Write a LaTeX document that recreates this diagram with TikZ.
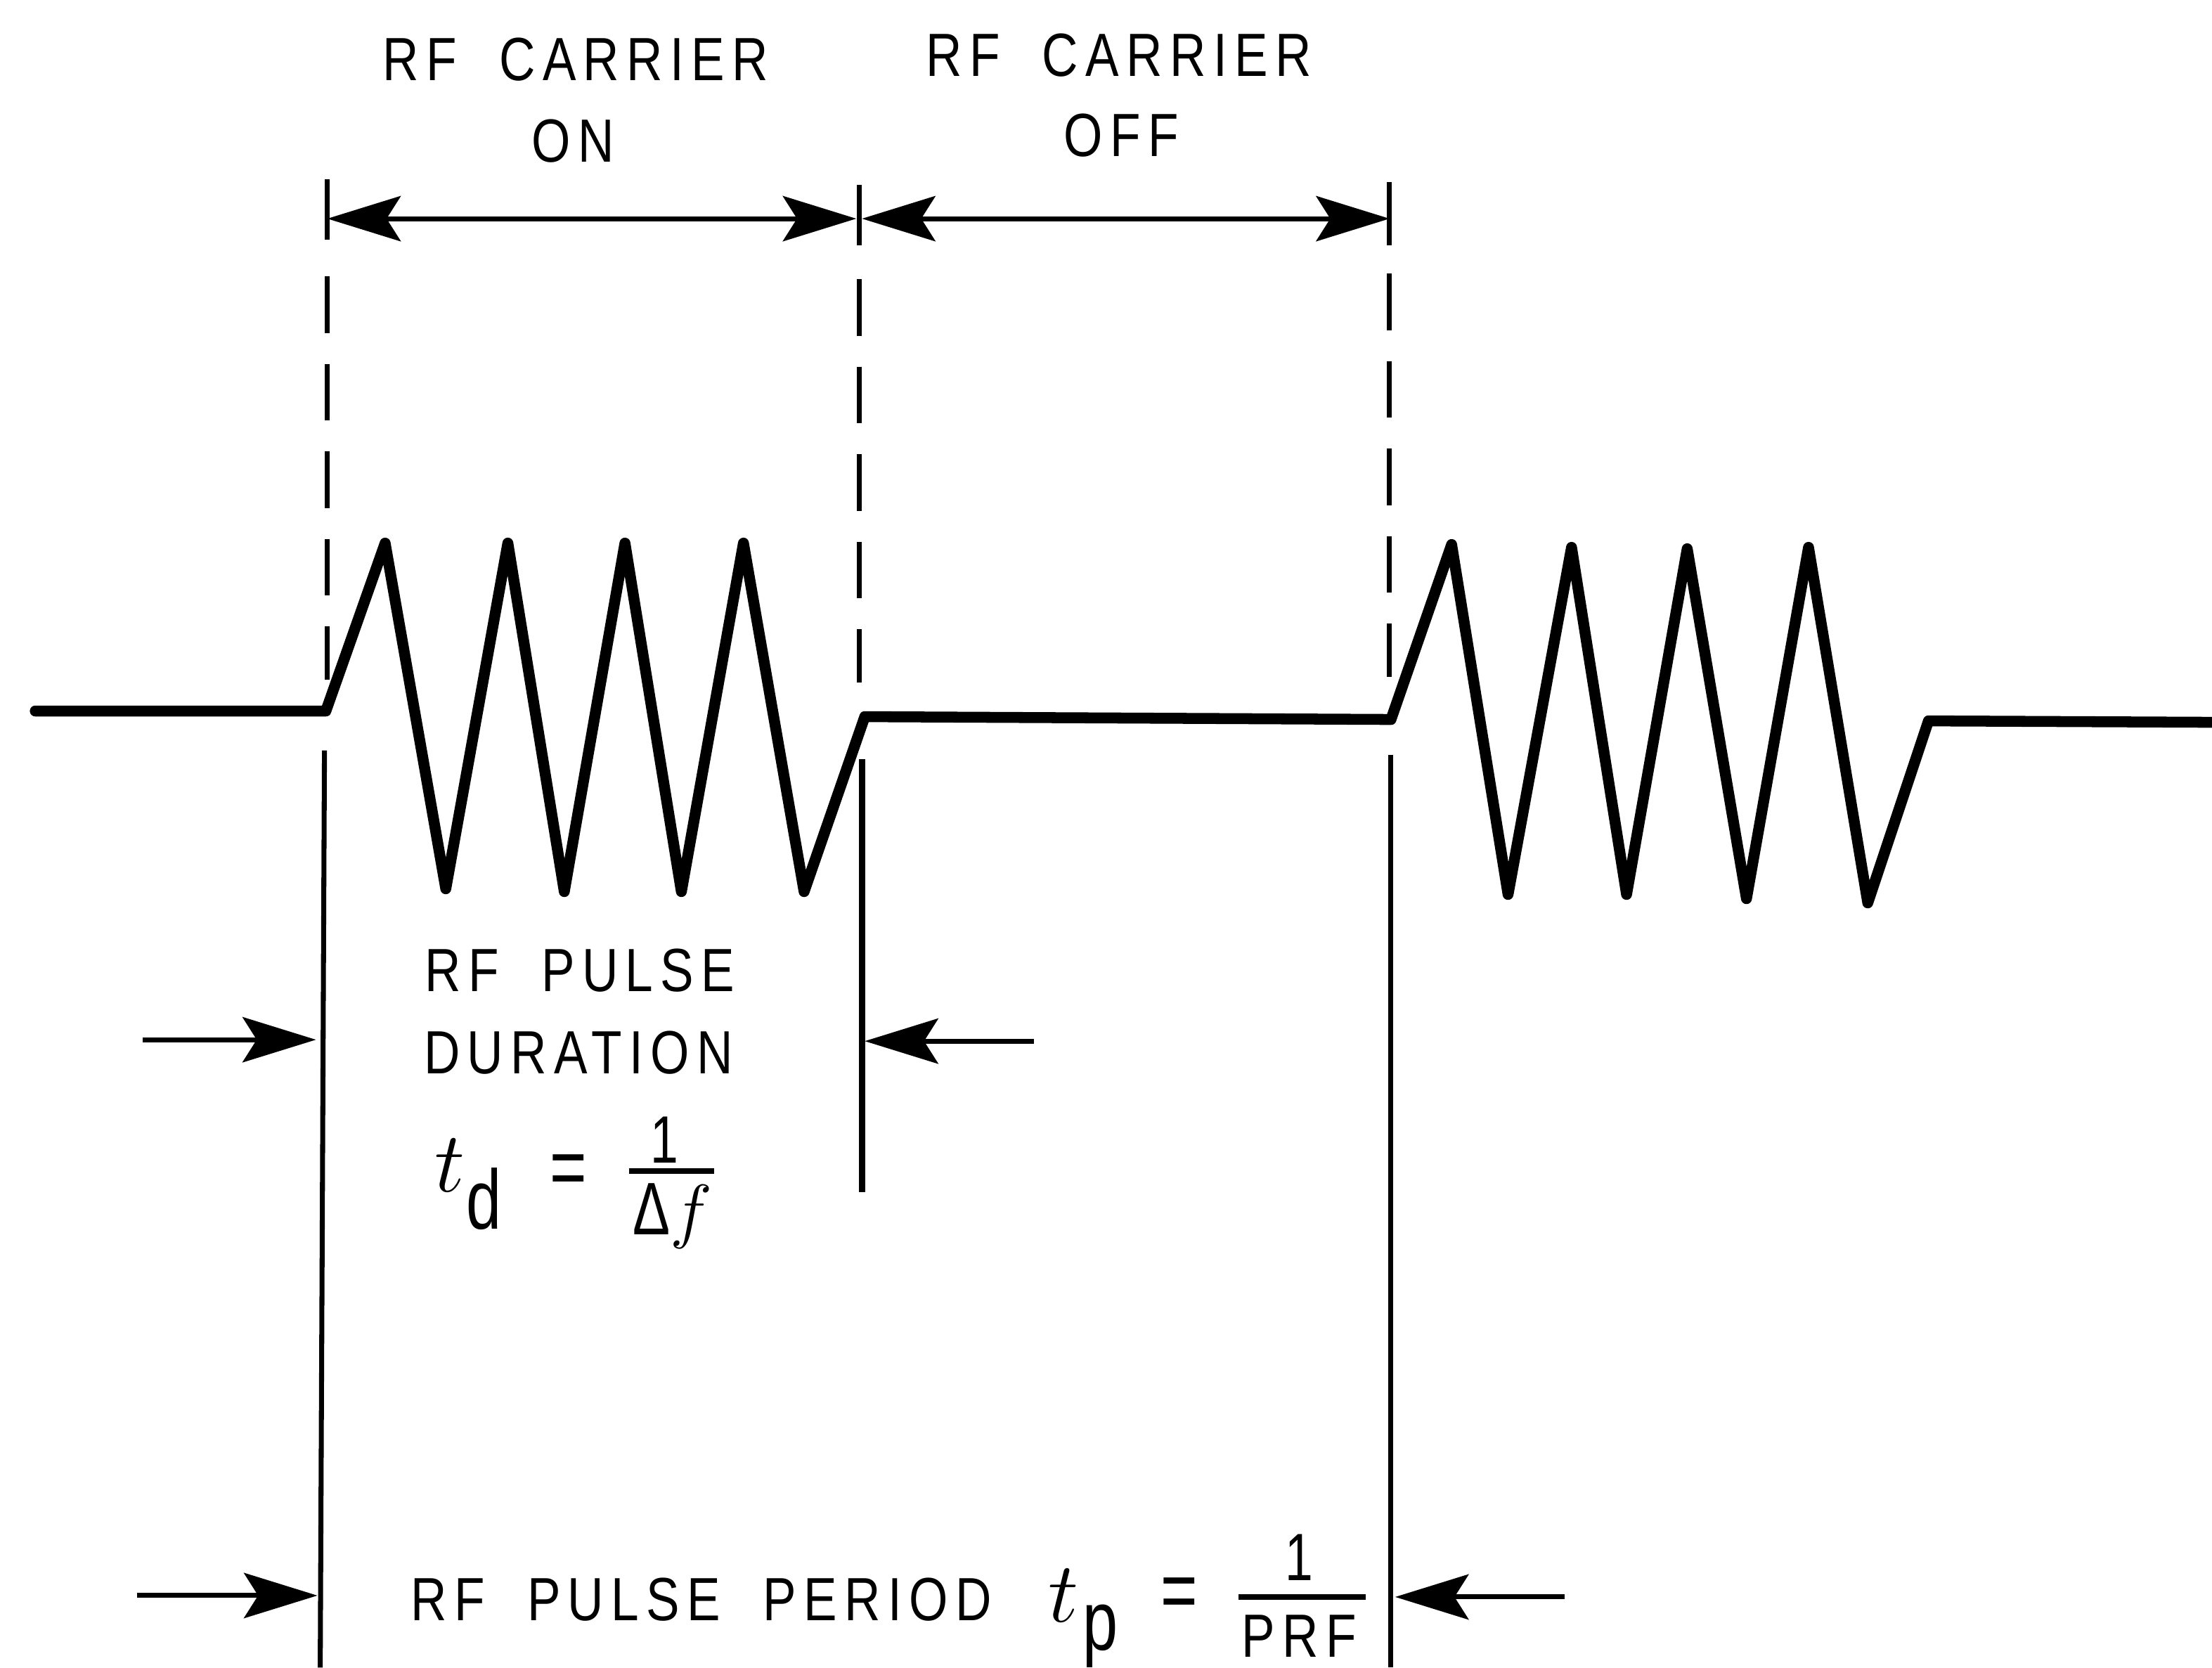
\documentclass[tikz,border=0pt]{standalone}
\usepackage{fontspec}
\setmainfont{Liberation Sans}
\newfontfamily\lbl[FakeStretch=0.82,LetterSpace=12,WordSpace=2]{Liberation Sans}
\newfontfamily\lblone[FakeStretch=0.75]{Liberation Sans}
\usetikzlibrary{arrows.meta}
\begin{document}
\begin{tikzpicture}[x=0.01cm,y=-0.01cm,
  wave/.style={line width=2.2pt,line join=round,line cap=round},
  thinline/.style={line width=1.0pt},
  heavyline/.style={line width=1.3pt},
  guide/.style={line width=1.0pt,dash pattern=on 0.40cm off 0.22cm},
  tip/.tip={Stealth[length=0.52cm,width=0.32cm,inset=0.1cm]},
  dimarrow/.style={line width=1.0pt,-tip},
  dimboth/.style={line width=1.0pt,tip-tip},
  lab/.style={inner sep=0pt,font={\lbl\fontsize{12.3}{14}\selectfont}},
  labone/.style={inner sep=0pt,font={\lblone\fontsize{13.5}{15}\selectfont}},
  eqsign/.style={inner sep=0pt,font={\lblone\fontsize{17}{19}\selectfont}},
  bigsub/.style={inner sep=0pt,font={\lblone\fontsize{17}{19}\selectfont}},
  mathbig/.style={inner sep=0pt,font={\fontsize{17}{19}\selectfont}},
  fracbar/.style={line width=1.1pt},
]
\useasboundingbox (0,0) rectangle (1568,1182);

% ---------- waveform ----------
\coordinate (w0) at (25,504);
\coordinate (w1) at (231,504);
\coordinate (wOff0) at (613,508);
\coordinate (wOff1) at (986,510);
\coordinate (w2) at (1367,511);
\coordinate (w3) at (1568,512);
\draw[wave] (w0) -- (w1) -- (273,385) -- (316,630) -- (360,385) -- (400,632)
  -- (443,385) -- (483,632) -- (527,385) -- (570,632) -- (wOff0) -- (wOff1)
  -- (1029,386) -- (1069,634) -- (1114,388) -- (1153,634) -- (1196,389)
  -- (1238,637) -- (1282,388) -- (1324,640) -- (w2) -- (w3);

% ---------- top ticks and dashed guides ----------
\coordinate (tA1) at (232,127); \coordinate (tA2) at (232,170);
\coordinate (tB1) at (609,131); \coordinate (tB2) at (609,174);
\coordinate (tC1) at (985,129); \coordinate (tC2) at (985,174);
\draw[thinline] (tA1) -- (tA2);
\draw[thinline] (tB1) -- (tB2);
\draw[thinline] (tC1) -- (tC2);
\coordinate (gA1) at (232,196); \coordinate (gA2) at (232,482);
\coordinate (gB1) at (609,198); \coordinate (gB2) at (609,484);
\coordinate (gC1) at (985,194); \coordinate (gC2) at (985,480);
\draw[guide] (gA1) -- (gA2);
\draw[guide] (gB1) -- (gB2);
\draw[guide] (gC1) -- (gC2);

% top dimension arrows
\coordinate (dA) at (232,155);
\coordinate (dB1) at (607,155);
\coordinate (dB2) at (611,155);
\coordinate (dC) at (985,155);
\draw[dimboth] (dA) -- (dB1);
\draw[dimboth] (dB2) -- (dC);

% ---------- lower vertical lines ----------
\coordinate (vA1) at (230,532); \coordinate (vA2) at (227,1182);
\coordinate (vB1) at (611,538); \coordinate (vB2) at (611,845);
\coordinate (vC1) at (986,535); \coordinate (vC2) at (986,1182);
\draw[thinline] (vA1) -- (vA2);
\draw[heavyline] (vB1) -- (vB2);
\draw[thinline] (vC1) -- (vC2);

% duration arrows
\coordinate (m1s) at (101,737); \coordinate (m1e) at (224,737);
\coordinate (m2s) at (733,738); \coordinate (m2e) at (613,738);
\draw[dimarrow] (m1s) -- (m1e);
\draw[dimarrow] (m2s) -- (m2e);

% period arrows
\coordinate (b1s) at (97,1131); \coordinate (b1e) at (225,1131);
\coordinate (b2s) at (1109,1132); \coordinate (b2e) at (989,1132);
\draw[dimarrow] (b1s) -- (b1e);
\draw[dimarrow] (b2s) -- (b2e);

% ---------- labels ----------
\node[lab] (onA) at (408,42) {RF CARRIER};
\node[lab] (onB) at (406,100) {ON};
\node[lab] (offA) at (793,39) {RF CARRIER};
\node[lab] (offB) at (795,96) {OFF};
\node[lab] (durA) at (411,688) {RF PULSE};
\node[lab] (durB) at (410,746) {DURATION};

\node[mathbig] (tdt) at (319,826) {$t$};
\node[bigsub] (tdd) at (343,850) {d};
\node[eqsign] (tdeq) at (403,833) {=};
\node[labone] (tdone) at (471,808) {1};
\coordinate (tdbar1) at (446,830); \coordinate (tdbar2) at (506,830);
\draw[fracbar] (tdbar1) -- (tdbar2);
\node[inner sep=0pt,font={\fontsize{15}{17}\selectfont}] (tddf) at (477,862) {{\lblone Δ}$f$};

\node[lab] (per) at (497,1134) {RF PULSE PERIOD};
\node[mathbig] (tpt) at (754,1131) {$t$};
\node[bigsub] (tpp) at (780,1160) {p};
\node[eqsign] (tpeq) at (836,1133) {=};
\node[labone] (tpone) at (921,1104) {1};
\coordinate (tpbar1) at (878,1132); \coordinate (tpbar2) at (968,1132);
\draw[fracbar] (tpbar1) -- (tpbar2);
\node[lab] (tpprf) at (921,1160) {PRF};
\end{tikzpicture}
\end{document}
